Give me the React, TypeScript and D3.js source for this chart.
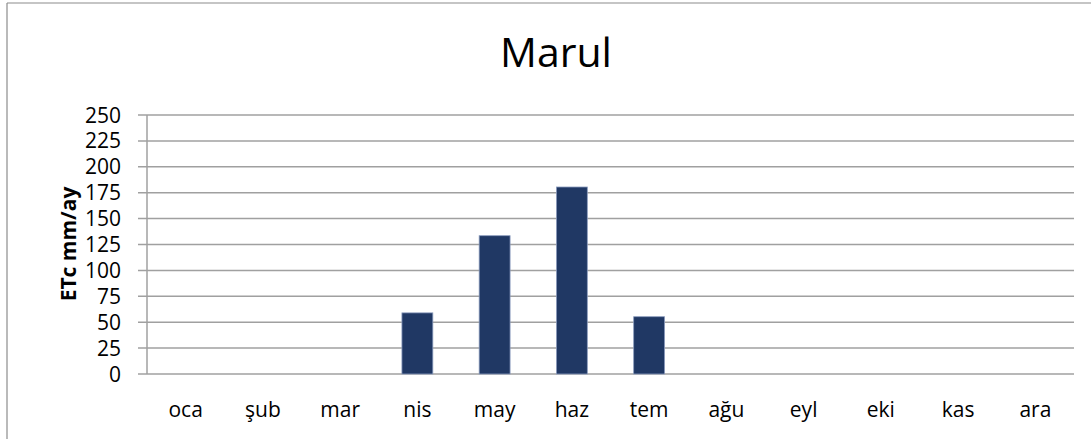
import React from "react";
import * as d3 from "d3";

const title = "Marul";
const yLabel = "ETc mm/ay";
const months = ["oca", "şub", "mar", "nis", "may", "haz", "tem", "ağu", "eyl", "eki", "kas", "ara"];
const values = [0, 0, 0, 59, 133.5, 180.5, 55.3, 0, 0, 0, 0, 0];
const yTicks = [0, 25, 50, 75, 100, 125, 150, 175, 200, 225, 250];

const W = 1091;
const H = 439;
const left = 147;
const right = 1074;
const top = 115;
const bottom = 374;
const FONT = "'Open Sans', 'Noto Sans', sans-serif";

export default function App() {
  const y = d3.scaleLinear().domain([0, 250]).range([bottom, top]);
  const band = d3.scaleBand<string>().domain(months).range([left, right]);
  const barW = band.bandwidth() * 0.4;

  return (
    <svg width={W} height={H} style={{ position: "fixed", left: 0, top: 0, background: "#fff" }}>
      <rect x={0} y={0} width={W} height={H} fill="#fff" />
      <line x1={7} y1={3} x2={W} y2={3} stroke="#8c8c8c" strokeWidth={1.2} />
      <line x1={7} y1={3} x2={7} y2={H} stroke="#8c8c8c" strokeWidth={1.2} />
      <text x={556} y={67} textAnchor="middle" fontFamily={FONT} fontSize={41} fill="#000">{title}</text>
      {yTicks.map((t) => (
        <g key={t}>
          <line x1={138} x2={right} y1={y(t)} y2={y(t)} stroke="#a0a0a0" strokeWidth={1.5} />
          <text x={121} y={y(t)} dy="0.36em" textAnchor="end" fontFamily={FONT} fontSize={21} fill="#000">{t}</text>
        </g>
      ))}
      <line x1={left} x2={left} y1={top} y2={bottom} stroke="#a0a0a0" strokeWidth={1.5} />
      {months.map((m, i) => (
        values[i] > 0 ? (
          <rect key={m} x={band(m)! + band.bandwidth() / 2 - barW / 2} y={y(values[i])} width={barW} height={bottom - y(values[i])}
            fill="#203864" stroke="#8a9bbd" strokeWidth={0.8} />
        ) : null
      ))}
      {months.map((m) => (
        <text key={m} x={band(m)! + band.bandwidth() / 2} y={417} textAnchor="middle" fontFamily={FONT} fontSize={21} fill="#000">{m}</text>
      ))}
      <text transform={`translate(76, 244) rotate(-90)`} textAnchor="middle" fontFamily={FONT} fontSize={21} fontWeight="bold" fill="#000">{yLabel}</text>
    </svg>
  );
}
